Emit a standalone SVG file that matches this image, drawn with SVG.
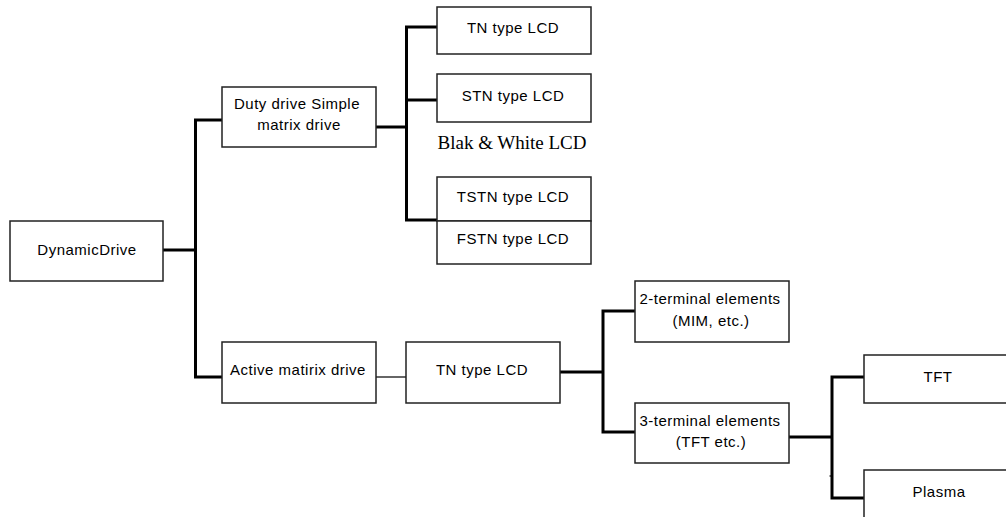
<svg xmlns="http://www.w3.org/2000/svg" width="1006" height="517" viewBox="0 0 1006 517">
<style>
.box{fill:#fff;stroke:#222;stroke-width:1.5}
.t{font-family:"Liberation Sans",Arial,sans-serif;font-size:15px;letter-spacing:0.5px;fill:#000;text-anchor:middle}
.s{font-family:"Liberation Serif","Times New Roman",serif;font-size:19px;fill:#000;text-anchor:middle}
.c{fill:none;stroke:#000;stroke-width:3}
.ct{fill:none;stroke:#000;stroke-width:1.2}
</style>
<rect width="1006" height="517" fill="#fff"/>
<g id="connectors">
<polyline class="c" points="163,250 195.5,250"/>
<polyline class="c" points="222,120 195.5,120 195.5,377 222,377"/>
<polyline class="c" points="376,127 406.5,127"/>
<polyline class="c" points="437,27 406.5,27 406.5,220 437,220"/>
<polyline class="c" points="406.5,100 437,100"/>
<polyline class="ct" points="376,377 406,377"/>
<polyline class="c" points="560,372 603,372"/>
<polyline class="c" points="635,311 603,311 603,432 635,432"/>
<polyline class="c" points="789,437 832,437"/>
<polyline class="c" points="864,377 832,377 832,498 864,498"/>
<polyline class="ct" points="829.5,476 832,476"/>
</g>
<g id="n-dynamic"><rect class="box" x="10" y="221" width="153" height="60"/><text class="t" x="87" y="255">DynamicDrive</text></g>
<g id="n-duty"><rect class="box" x="222" y="87" width="154" height="60"/><text class="t" x="297" y="109">Duty drive Simple</text><text class="t" x="299" y="130">matrix drive</text></g>
<g id="n-tn1"><rect class="box" x="437" y="7" width="154" height="47"/><text class="t" x="513" y="33">TN type LCD</text></g>
<g id="n-stn"><rect class="box" x="437" y="74" width="154" height="48"/><text class="t" x="513" y="101">STN type LCD</text></g>
<g id="n-bw"><text class="s" x="512" y="149">Blak &amp; White LCD</text></g>
<g id="n-tstn"><rect class="box" x="437" y="177" width="154" height="44"/><text class="t" x="513" y="202">TSTN type LCD</text></g>
<g id="n-fstn"><rect class="box" x="437" y="221" width="154" height="43"/><text class="t" x="513" y="244">FSTN type LCD</text></g>
<g id="n-active"><rect class="box" x="222" y="342" width="154" height="61"/><text class="t" x="298" y="375">Active matirix drive</text></g>
<g id="n-tn2"><rect class="box" x="406" y="342" width="154" height="61"/><text class="t" x="482" y="375">TN type LCD</text></g>
<g id="n-2term"><rect class="box" x="635" y="281" width="154" height="61"/><text class="t" x="710" y="304">2-terminal elements</text><text class="t" x="711" y="326">(MIM, etc.)</text></g>
<g id="n-3term"><rect class="box" x="635" y="403" width="154" height="60"/><text class="t" x="710" y="426">3-terminal elements</text><text class="t" x="711" y="447">(TFT etc.)</text></g>
<g id="n-tft"><rect class="box" x="864" y="355" width="150" height="48"/><text class="t" x="938" y="382">TFT</text></g>
<g id="n-plasma"><rect class="box" x="864" y="470" width="150" height="60"/><text class="t" x="939" y="497">Plasma</text></g>
</svg>
